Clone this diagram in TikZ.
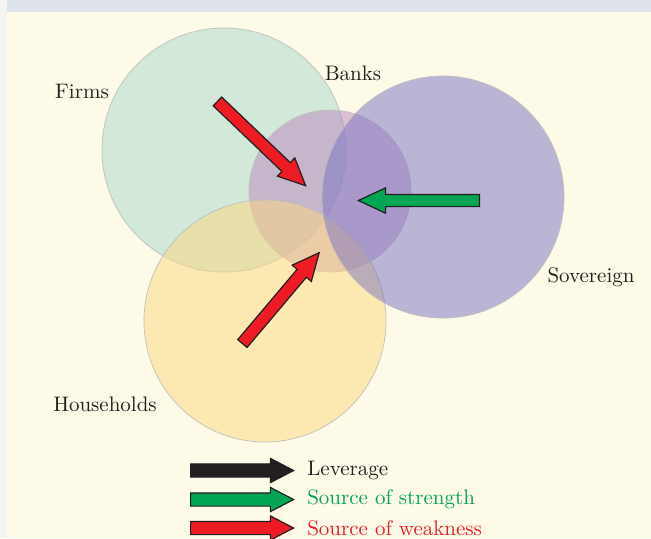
\documentclass[tikz,border=0pt]{standalone}
\usetikzlibrary{shapes.arrows,positioning}
\definecolor{cream}{HTML}{FEFAE8}
\definecolor{barc}{HTML}{DDE3E8}
\definecolor{stripc}{HTML}{F4F4F2}
\definecolor{firmsc}{HTML}{A8D7CC}
\definecolor{banksc}{HTML}{BC86C0}
\definecolor{hhc}{HTML}{FCD97C}
\definecolor{sovc}{HTML}{7872C2}
\definecolor{inkc}{HTML}{231F20}
\definecolor{strongc}{HTML}{00A651}
\definecolor{weakc}{HTML}{ED1C24}

\begin{document}
\begin{tikzpicture}[x=0.5pt,y=-0.5pt,
  sector/.style={circle,draw=black!25,line width=0.35pt,fill opacity=0.5,inner sep=0pt},
  blockarr/.style={single arrow,draw=inkc,line width=0.6pt,inner xsep=0pt,inner ysep=2.75pt,
    minimum width=12pt,single arrow head extend=3.25pt,single arrow tip angle=50,anchor=tail},
  keyarr/.style={blockarr,minimum height=51.5pt,inner ysep=3pt,minimum width=11.5pt,
    single arrow head extend=2.75pt,single arrow tip angle=55},
  lbl/.style={font=\fontsize{10.5}{12}\selectfont,text=inkc,inner sep=0pt}]
   % background and frame
   \useasboundingbox (0,0) rectangle (651,538);
   \fill[cream] (0,0) rectangle (651,538);
   \fill[stripc] (0,0) rectangle (7,538);
   \fill[barc] (7,0) rectangle (651,12);
   % sectors
   \node[sector, fill=firmsc, minimum size=122pt] (firms) at (224,150) {};
   \node[sector, fill=banksc, minimum size=81pt] (banks) at (330,191) {};
   \node[sector, fill=hhc, minimum size=121pt] (hh) at (265,321) {};
   \node[sector, fill=sovc, minimum size=121pt] (sov) at (443,197) {};
   % sector names
   \node[lbl] (firmslbl) at (82,91) {Firms};
   \node[lbl] (bankslbl) at (353,73) {Banks};
   \node[lbl] (sovlbl) at (591,277) {Sovereign};
   \node[lbl] (hhlbl) at (105,404) {Households};
   % channels
   \node[blockarr, fill=weakc, minimum height=61pt, rotate=-43.7] (firmsarr) at (217,101) {};
   \node[blockarr, fill=strongc, minimum height=60.5pt, rotate=180] (sovarr) at (480,200.5) {};
   \node[blockarr, fill=weakc, minimum height=59.5pt, rotate=49.8] (hharr) at (242,344) {};
   % key
   \node[keyarr, fill=inkc] (levarr) at (190,470.5) {};
   \node[keyarr, fill=strongc] (strarr) at (190,499.5) {};
   \node[keyarr, fill=weakc] (weakarr) at (190,528) {};
   \node[lbl, right=6pt of levarr.tip] (levlbl) {Leverage};
   \node[lbl, text=strongc, right=6pt of strarr.tip] (strlbl) {Source of strength};
   \node[lbl, text=weakc, right=6pt of weakarr.tip] (weaklbl) {Source of weakness};
\end{tikzpicture}
\end{document}
